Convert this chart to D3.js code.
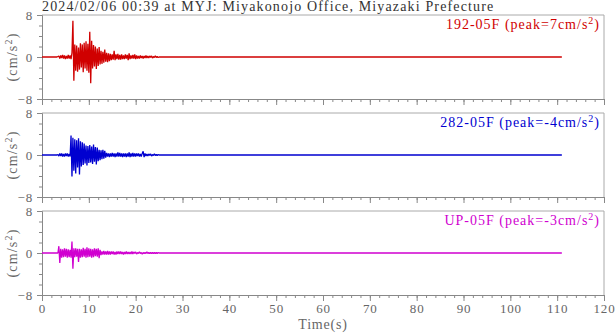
<!DOCTYPE html>
<html>
<head>
<meta charset="utf-8">
<script src="https://cdn.jsdelivr.net/npm/d3@7"></script>
<style>
  body { margin: 0; background: #fff; }
  svg { font-family: "Liberation Serif", "Times New Roman", serif; }
</style>
</head>
<body>
<div id="chart"></div>
<script>
//chart size
const width = 616, height = 334;
const margin = {left: 42, right: 12};
const panel_h = 84;
const panel_tops = [15, 113, 211];

//time of the first sample in the arrays, and sample step (s)
const t_start = 3.0;
const dt = 0.2;
//record length (s), the trace is flat after the arrays end
const trace_end = 111;

const title = '2024/02/06 00:39 at MYJ: Miyakonojo Office, Miyazaki Prefecture';
const channels = ['192-05F', '282-05F', 'UP-05F'];
const peaks = ['7', '-4', '-3'];
const colors = ['#d00000', '#0000d0', '#d000d0'];
const x_ticks = [0, 10, 20, 30, 40, 50, 60, 70, 80, 90, 100, 110, 120];
const y_ticks = [-8, 0, 8];

//acceleration samples (cm/s2)
const ns_values = [
  0, 0, 0.1, 0.2, -0.3, 0.3, -0.2, 0.4, -0.3, 0.3, -0.4, 0.2, -0.3, 0.4, -0.3, 0.3, -0.4,
  0.8, 6.9, -4.5, 2.4,
  -2.6, 2.2, -2.8, 1.8, -2.4, 2.6, -2.0, 2.4, -2.9, 2.7, -2.2, 3.0, -2.6, 2.5, -3.0,
  4.8, -5.0, 3.1,
  -2.2, 2.3, -1.8, 2.0, -2.3, 1.6, -1.7, 1.9, -1.4,
  1.2, -1.3, 1.0, -1.1, 1.4, -0.9, 0.8, -1.0, 0.7, -0.8, 0.6,
  -0.6, 0.5, -0.5, 1.2, -0.6, 0.5, -0.4, 0.6, -0.5, 0.4, -0.5, 0.5, -0.4, 0.3,
  -0.4, 0.5, -0.3, 0.4, -0.6, 0.7, -0.4, 0.3, -0.3, 0.4, -0.3, 0.5, -0.4,
  0.3, -0.3, 0.2, -0.3, 0.3, -0.2, 0.2, -0.3, 0.2, -0.2, 0.3, -0.2, 0.2,
  -0.2, 0.2, -0.1, 0.2, -0.2, 0.1, -0.1, 0.2, -0.1, 0.1, -0.1, 0
];

const ew_values = [
  0, 0, 0.1, -0.2, 0.3, -0.2, 0.3, -0.3, 0.2, -0.3, 0.3, -0.2, 0.3, -0.3, 0.2, -0.3,
  3.7, -4.1, 3.3, -3.0, 3.0, -3.5, 2.8, -2.4, 3.2, -3.7, 2.6, -2.2, 2.4,
  -1.9, 2.2, -1.6, 1.8, -2.0, 1.7, -1.5, 1.9, -1.4, 1.6, -1.7, 2.0, -1.3, 1.5, -1.8, 1.4, -1.2,
  1.0, -1.0, 0.9, -0.8, 1.0, -0.7, 0.8, -0.5,
  0.4, -0.3, 0.3, -0.4, 0.3, -0.3, 0.4, -0.3, 0.3, -0.4,
  0.3, -0.3, 0.5, -0.3, 0.4, -0.3, 0.3, -0.4, 0.3, -0.3,
  0.3, -0.4, 0.3, -0.3, 0.5, -0.4, 0.3, -0.3, 0.4, -0.3,
  0.3, -0.3, 0.3, -0.2, 0.3, -0.3, 0.2, -0.3, 0.3,
  0.7, -0.4, 0.3,
  -0.2, 0.2, -0.2, 0.2, -0.1, 0.2, -0.2, 0.1, -0.1, 0.2, -0.1, 0.1, -0.1, 0.1, 0
];

const ud_values = [
  0, 0, 0, 1.3, -1.9,
  0.8, -0.9, 0.7, -0.8, 0.9, -0.7, 0.8, -0.9, 0.7, -0.8, 0.6, -0.9,
  2.2, -3.0, 0.9,
  -0.8, 0.9, -0.7, 0.8, -1.7, 0.8, -0.9, 0.7, -0.8, 1.0,
  -0.7, 0.8, -0.9, 1.1, -0.8, 0.9, -0.7, 0.8, -0.9, 0.7,
  -0.8, 0.9, -0.6, 0.8, -0.7, 0.9, -1.0, 0.6,
  -0.4, 0.3, -0.3, 0.4, -0.3, 0.3, -0.3, 0.4, -0.3, 0.3,
  -0.3, 0.3, -0.2, 0.3, -0.3, 0.2, -0.3, 0.3, -0.2, 0.3,
  -0.2, 0.3, -0.2, 0.2, -0.3, 0.2, -0.2, 0.3, -0.2, 0.2,
  -0.2, 0.2, -0.2, 0.3, -0.2, 0.2, -0.1, 0.2,
  -0.2, 0.1, -0.1, 0.2, -0.1, 0.1, -0.2, 0.1, -0.1, 0.1,
  -0.1, 0.2, -0.1, 0.1, -0.1, 0.1, -0.1, 0.1, -0.1, 0.1,
  -0.1, 0.1, -0.1, 0.1, 0
];

const series = [ns_values, ew_values, ud_values];

//create svg
let svg = d3.select('#chart')
    .append('svg')
    .attr('width', width)
    .attr('height', height);

let x = d3.scaleLinear().domain([0, 120]).range([margin.left, width - margin.right]);

//title
svg.append('text')
    .attr('x', margin.left)
    .attr('y', 11)
    .attr('fill', '#333')
    .style('font-size', '14px')
    .style('letter-spacing', '1.15px')
    .text(title);

//turn a sample array into [t, value] pairs, flat before and after
function toPoints(values) {
    let pts = [[0, 0]];
    values.forEach(function(v, i) {
        pts.push([t_start + i * dt, v]);
    });
    pts.push([trace_end, 0]);
    return pts;
}

series.forEach(function(values, k) {
    let top = panel_tops[k];
    let y = d3.scaleLinear().domain([-8, 8]).range([top + panel_h, top]);
    let g = svg.append('g');

    //frame: light top/right, darker left/bottom
    g.append('path')
        .attr('d', `M${x(0)},${top}H${x(120)}V${top + panel_h}`)
        .attr('fill', 'none')
        .attr('stroke', '#aaa')
        .attr('stroke-width', 1);

    //minor ticks
    g.append('g')
        .attr('transform', `translate(${x(0)},0)`)
        .call(d3.axisLeft(y).tickValues(d3.range(-8, 9, 2)).tickSize(3).tickFormat(''))
        .call(function(a) { a.select('.domain').remove(); });
    g.append('g')
        .attr('transform', `translate(0,${top + panel_h})`)
        .call(d3.axisBottom(x).tickValues(d3.range(0, 121, 2)).tickSize(3).tickFormat(''))
        .call(function(a) { a.select('.domain').remove(); });

    //major ticks with labels
    let yAxis = g.append('g')
        .attr('transform', `translate(${x(0)},0)`)
        .call(d3.axisLeft(y).tickValues(y_ticks).tickSize(5).tickPadding(4));
    let xAxis = g.append('g')
        .attr('transform', `translate(0,${top + panel_h})`)
        .call(d3.axisBottom(x).tickValues(x_ticks).tickSize(6).tickPadding(3)
            .tickFormat(k === 2 ? d3.format('d') : ''));

    [yAxis, xAxis].forEach(function(a) {
        a.select('.domain').attr('stroke', '#888');
        a.selectAll('text')
            .attr('fill', '#666')
            .style('font-family', '"Liberation Serif", serif')
            .style('font-size', '13px')
            .style('letter-spacing', '0.8px');
    });
    g.selectAll('.tick line').attr('stroke', '#888');

    //waveform
    let line = d3.line()
        .x(function(d) { return x(d[0]); })
        .y(function(d) { return y(d[1]); });
    g.append('path')
        .datum(toPoints(values))
        .attr('d', line)
        .attr('fill', 'none')
        .attr('stroke', colors[k])
        .attr('stroke-width', 1.3)
        .attr('stroke-linejoin', 'bevel');

    //channel label
    let lab = g.append('text')
        .attr('x', x(120) - 4)
        .attr('y', top + 14)
        .attr('text-anchor', 'end')
        .attr('fill', colors[k])
        .style('font-size', '14px')
        .style('letter-spacing', '1px');
    lab.append('tspan').text(`${channels[k]} (peak=${peaks[k]}cm/s`);
    lab.append('tspan').attr('dy', -5).style('font-size', '10px').text('2');
    lab.append('tspan').attr('dy', 5).text(')');

    //unit label
    let ul = g.append('text')
        .attr('transform', `translate(17,${top + panel_h / 2}) rotate(-90)`)
        .attr('text-anchor', 'middle')
        .attr('fill', '#666')
        .style('font-size', '14px')
        .style('letter-spacing', '1.2px');
    ul.append('tspan').text('(cm/s');
    ul.append('tspan').attr('dy', -5).style('font-size', '10px').text('2');
    ul.append('tspan').attr('dy', 5).text(')');
});

//x axis title
svg.append('text')
    .attr('x', (x(0) + x(120)) / 2)
    .attr('y', 329)
    .attr('text-anchor', 'middle')
    .attr('fill', '#666')
    .style('font-size', '14px')
    .style('letter-spacing', '0.8px')
    .text('Time(s)');
</script>
</body>
</html>
